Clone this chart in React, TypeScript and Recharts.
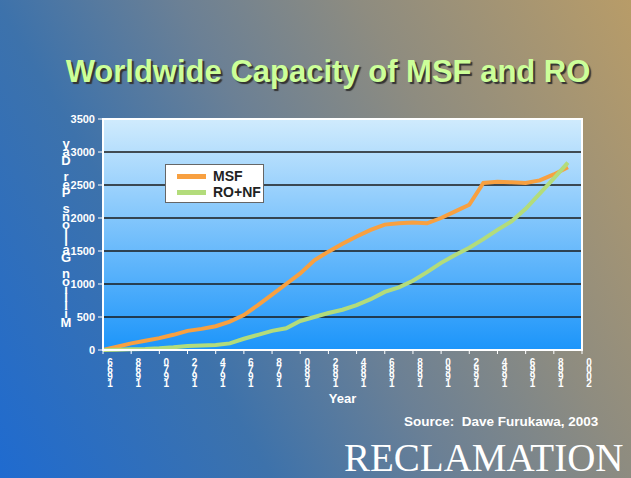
import { CartesianGrid, Legend, Line, LineChart, ReferenceArea, XAxis, YAxis } from 'recharts'

const years = [
  1966, 1967, 1968, 1969, 1970, 1971, 1972, 1973, 1974, 1975, 1976, 1977,
  1978, 1979, 1980, 1981, 1982, 1983, 1984, 1985, 1986, 1987, 1988, 1989,
  1990, 1991, 1992, 1993, 1994, 1995, 1996, 1997, 1998, 1999,
]
const msf = [
  0, 50, 100, 140, 180, 230, 290, 320, 360, 430, 530, 680,
  840, 1000, 1160, 1360, 1490, 1610, 1720, 1820, 1900, 1920, 1930, 1920,
  2000, 2100, 2200, 2530, 2550, 2540, 2530, 2570, 2660, 2770,
]
const roNf = [
  0, 5, 10, 15, 25, 40, 60, 70, 75, 100, 170, 230,
  290, 330, 440, 500, 560, 610, 680, 770, 880, 950, 1050, 1180,
  1320, 1440, 1550, 1680, 1820, 1950, 2140, 2370, 2600, 2840,
]
const xTicks = [
  1966, 1968, 1970, 1972, 1974, 1976, 1978, 1980, 1982,
  1984, 1986, 1988, 1990, 1992, 1994, 1996, 1998, 2000,
]
const yTicks = [0, 500, 1000, 1500, 2000, 2500, 3000, 3500]
const seriesNames = ['MSF', 'RO+NF']

const data = years.map((year, i) => ({ year, msf: msf[i], ro: roNf[i] }))

const sans = '"Liberation Sans", Arial, sans-serif'
const orange = '#f8a040'
const green = '#b3dc7b'

// year labels in the original are stacked digits, read bottom to top
function YearTick(props: any) {
  const { x, y, payload } = props
  const chars = String(payload.value).split('').reverse()
  return (
    <g>
      {chars.map((c, i) => (
        <text
          key={i}
          x={x + 7}
          y={y + 10 + i * 7}
          textAnchor='middle'
          fill='#fff'
          fontSize={10}
          fontWeight='bold'
          fontFamily={sans}
        >
          {c}
        </text>
      ))}
    </g>
  )
}

function StackedYLabel(props: any) {
  const { viewBox } = props
  const chars = 'Million Gallons Per Day'.split('').reverse()
  const step = 8.1
  const top = viewBox.y + viewBox.height / 2 - (chars.length * step) / 2 + 7
  return (
    <g>
      {chars.map((c, i) => (
        <text
          key={i}
          x={viewBox.x + 3}
          y={top + i * step}
          textAnchor='middle'
          fill='#fff'
          fontSize={13}
          fontWeight='bold'
          fontFamily={sans}
        >
          {c}
        </text>
      ))}
    </g>
  )
}

function LegendBox() {
  const colors = [orange, green]
  return (
    <div
      style={{
        width: 97,
        height: 37,
        background: '#fff',
        border: '1px solid #666',
        position: 'relative',
        fontFamily: sans,
      }}
    >
      {seriesNames.map((name, i) => (
        <div
          key={name}
          style={{ position: 'absolute', left: 11, top: 4 + i * 16, display: 'flex', alignItems: 'center' }}
        >
          <div style={{ width: 29, height: 5, background: colors[i] }} />
          <span style={{ marginLeft: 7, fontSize: 14, fontWeight: 'bold', color: '#222', lineHeight: '15px' }}>
            {name}
          </span>
        </div>
      ))}
    </div>
  )
}

export default function App() {
  return (
    <div
      style={{
        position: 'absolute',
        left: 0,
        top: 0,
        width: 631,
        height: 478,
        overflow: 'hidden',
        background: 'linear-gradient(60deg, #1f6bd0 0%, #3d72ab 30%, #6b8095 50%, #8e8c80 70%, #b89c68 100%)',
        fontFamily: sans,
      }}
    >
      <div
        style={{
          position: 'absolute',
          left: 0,
          width: 656,
          top: 54,
          textAlign: 'center',
          fontSize: 31,
          fontWeight: 'bold',
          color: '#ccff99',
          textShadow: '2px 2px 1px #333',
          whiteSpace: 'nowrap',
        }}
      >
        Worldwide Capacity of MSF and RO
      </div>

      <LineChart width={631} height={478} data={data} margin={{ top: 119, right: 49, left: 63, bottom: 73 }}>
        <defs>
          <linearGradient id='plotFill' x1='0' y1='0' x2='0' y2='1'>
            <stop offset='0%' stopColor='#d0ebfd' />
            <stop offset='100%' stopColor='#1c95fa' />
          </linearGradient>
        </defs>
        <CartesianGrid vertical={false} fill='url(#plotFill)' stroke='#1a1a1a' strokeWidth={1.5} strokeOpacity={1} />
        <ReferenceArea x1={1966} x2={2000} y1={0} y2={3500} fill='none' stroke='#fff' strokeWidth={2} />
        <XAxis
          dataKey='year'
          type='number'
          domain={[1966, 2000]}
          ticks={xTicks}
          interval={0}
          height={55}
          tickSize={4}
          stroke='#fff'
          axisLine={{ stroke: '#fff', strokeWidth: 2 }}
          tickLine={{ stroke: '#fff' }}
          tick={<YearTick />}
          label={{ value: 'Year', position: 'insideBottom', offset: 2, fill: '#fff', fontSize: 13, fontWeight: 'bold' }}
        />
        <YAxis
          domain={[0, 3500]}
          ticks={yTicks}
          width={40}
          tickSize={5}
          tickMargin={3}
          stroke='#fff'
          axisLine={{ stroke: '#fff', strokeWidth: 2 }}
          tickLine={{ stroke: '#fff' }}
          tick={{ fill: '#fff', fontSize: 11, fontWeight: 'bold', fontFamily: sans }}
          label={<StackedYLabel />}
        />
        <Legend
          verticalAlign='middle'
          content={<LegendBox />}
          wrapperStyle={{ position: 'absolute', left: 165, top: 164, width: 99, height: 39 }}
        />
        <Line
          name={seriesNames[0]}
          dataKey='msf'
          stroke={orange}
          strokeWidth={4}
          dot={false}
          type='linear'
          isAnimationActive={false}
        />
        <Line
          name={seriesNames[1]}
          dataKey='ro'
          stroke={green}
          strokeWidth={4}
          dot={false}
          type='linear'
          isAnimationActive={false}
        />
      </LineChart>

      <div
        style={{
          position: 'absolute',
          left: 404,
          top: 414,
          fontSize: 13.5,
          fontWeight: 'bold',
          color: '#fff',
          whiteSpace: 'pre',
        }}
      >
        {'Source:  Dave Furukawa, 2003'}
      </div>
      <div
        style={{
          position: 'absolute',
          left: 344,
          top: 436,
          fontSize: 39,
          fontFamily: '"Liberation Serif", "Times New Roman", serif',
          color: '#fff',
          whiteSpace: 'nowrap',
          lineHeight: '44px',
        }}
      >
        RECLAMATION
      </div>
    </div>
  )
}
